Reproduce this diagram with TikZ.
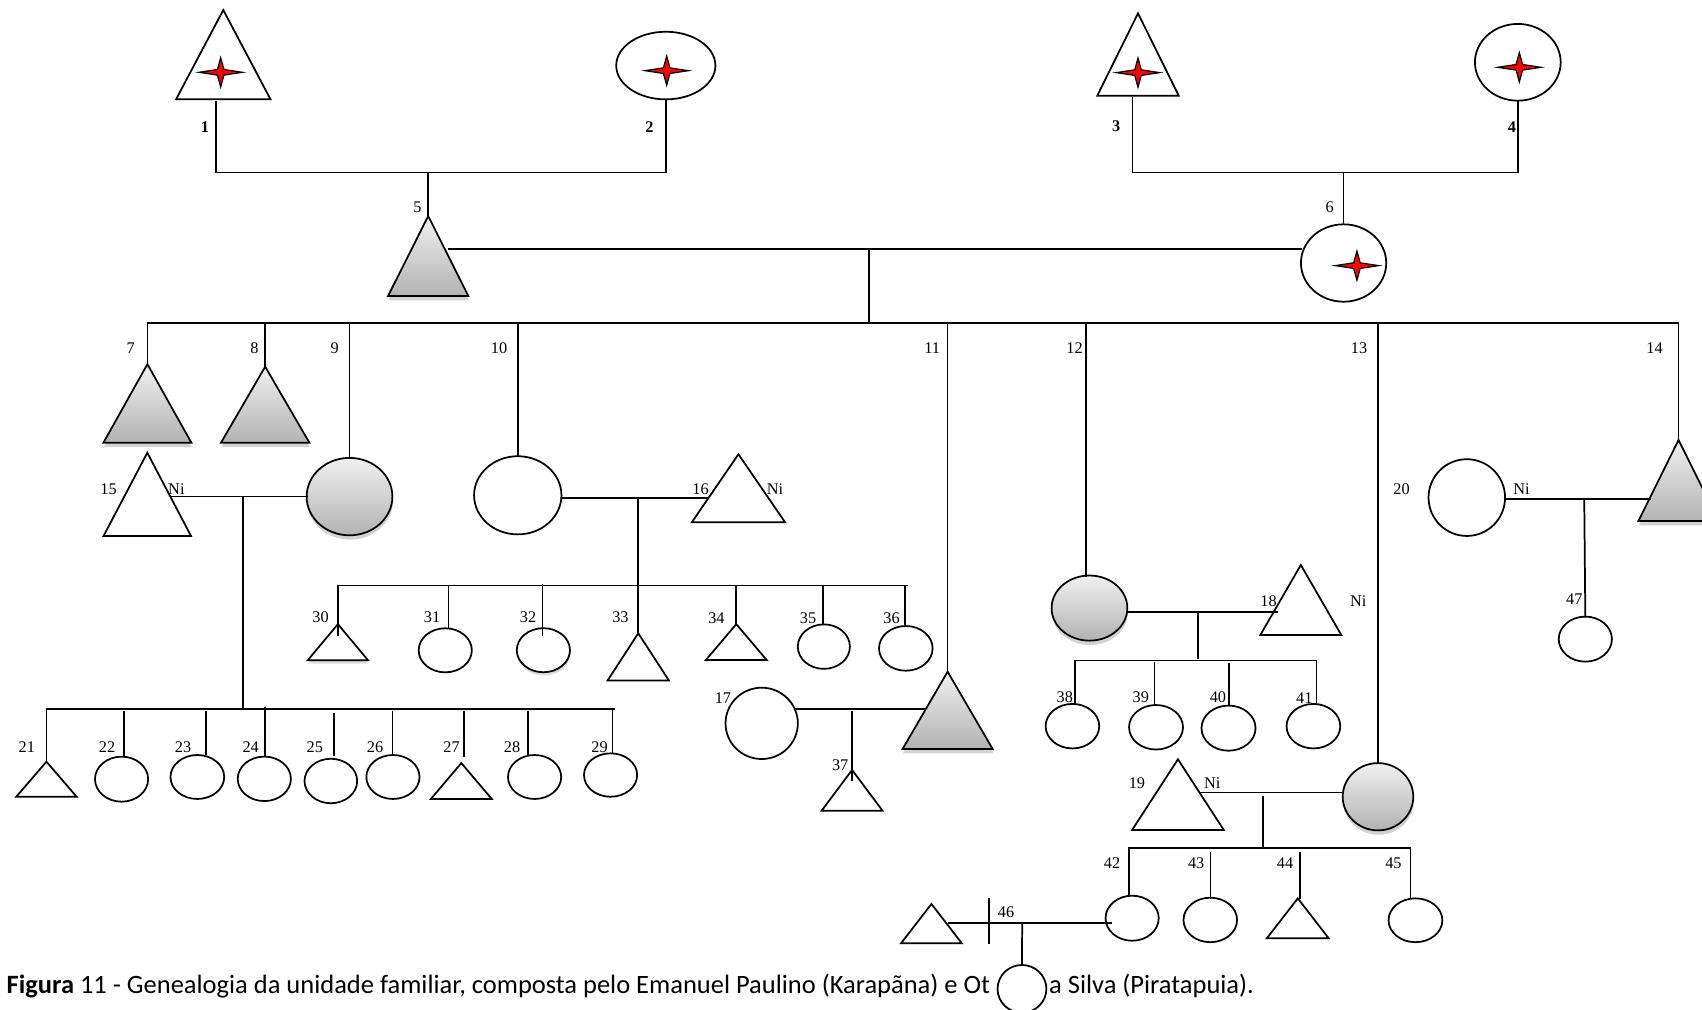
\documentclass[tikz,border=0pt]{standalone}
\usepackage{fontspec}
\setmainfont{Liberation Serif}
\newfontfamily\capfont{Carlito}
\usetikzlibrary{shapes.geometric,shadows}
\tikzset{
  ln/.style={line width=1.6pt, line cap=rect},
  shp/.style={draw, line width=1.6pt, fill=white, line join=miter},
  gsh/.style={draw, line width=1.6pt, top color=black!6, bottom color=black!30,
    drop shadow={shadow xshift=0.5pt, shadow yshift=-4pt, opacity=0.25, fill=black!70}},
  dsh/.style={drop shadow={shadow xshift=0.5pt, shadow yshift=-3pt, opacity=0.2, fill=black!70}},
  fem/.style={ellipse, shp, inner sep=0pt, outer sep=0pt},
  lbl/.style={font=\fontsize{15}{15}\selectfont, inner sep=0pt},
  blbl/.style={font=\fontsize{15}{15}\selectfont\bfseries, inner sep=0pt},
  starsty/.style={fill=red, draw=black, line width=1.1pt, line join=miter},
  capsty/.style={font=\capfont\fontsize{24.4}{24.4}\selectfont, inner sep=0pt, anchor=base west}
}
% triangle person: name, apex x, apex y, half base, height, style
\newcommand\ptri[6]{%
  \coordinate (#1-a) at (#2,#3);
  \coordinate (#1-r) at (#2+#4,#3+#5);
  \coordinate (#1-l) at (#2-#4,#3+#5);
  \path[#6] (#1-a) -- (#1-r) -- (#1-l) -- cycle;}
% ellipse person: name, x, y, width, height, style
\newcommand\pfem[6]{\node[fem,#6,minimum width=#4pt,minimum height=#5pt] (#1) at (#2,#3) {};}
% deceased mark
\newcommand\redstar[2]{\path[starsty] (#1-20,#2) -- (#1-3,#2-2.6) -- (#1,#2-13.5) -- (#1+3,#2-2.6)
  -- (#1+20,#2) -- (#1+3,#2+2.6) -- (#1,#2+13.5) -- (#1-3,#2+2.6) -- cycle;}
% vertical drop between two named coordinates
\newcommand\drop[4]{\coordinate (#1-u) at (#2,#3); \coordinate (#1-d) at (#2,#4);
  \draw[ln] (#1-u) -- (#1-d);}
\begin{document}
\begin{tikzpicture}[x=1pt,y=-1pt]
\fill[white] (0,0) rectangle (1568,930);
\useasboundingbox (0,0) rectangle (1568,930);

% caption
\node[capsty] (cap1) at (6,915) {\textbf{Figura} 11 - Genealogia da unidade familiar, composta pelo Emanuel Paulino (Karapãna) e Ot};
\node[capsty] (cap2) at (966.4,915) {a Silva (Piratapuia).};

% ---------- generation I ----------
\ptri{p1}{205.7}{9.2}{43.5}{82.3}{shp}
\redstar{203.3}{66.6}
\pfem{p2}{613.4}{60.4}{91.4}{62.3}{}
\redstar{614.2}{65.1}
\ptri{p3}{1048.4}{12.3}{37.5}{75.8}{shp}
\redstar{1048.4}{66.9}
\pfem{p4}{1398.3}{57.4}{79}{70.7}{}
\redstar{1399.7}{62}

% ---------- generation II ----------
\ptri{p5}{394.5}{199}{37}{73.7}{gsh}
\pfem{p6}{1237.8}{242.3}{78.6}{71.3}{}
\redstar{1250.1}{244.7}

% ---------- generation III ----------
\ptri{p7}{135.8}{335.5}{40.5}{72.3}{gsh}
\ptri{p8}{244.3}{337.8}{40.7}{70}{gsh}
\pfem{p9}{322}{457.5}{79}{71.3}{gsh}
\pfem{p10}{477}{456.3}{80.5}{72}{}
\ptri{p11}{873}{618.8}{41.5}{71.2}{gsh}
\pfem{p12}{1003.7}{560.2}{69.8}{60}{gsh}
\pfem{p13}{1269.5}{734}{65}{62}{gsh}
\ptri{p14}{1546.4}{405.3}{37}{74.7}{gsh}

% spouses
\ptri{p15}{135.7}{417.1}{40.3}{76.7}{shp}
\ptri{p16}{680.3}{418.5}{43}{62.7}{shp}
\pfem{p17}{701.7}{666.4}{66.6}{65.7}{}
\ptri{p18}{1198.4}{520.5}{37.3}{64.5}{shp}
\ptri{p19}{1085.2}{699.5}{42.2}{65.1}{shp}
\pfem{p20}{1351.3}{458.4}{70.5}{70.7}{}

% ---------- generation IV ----------
\ptri{p21}{42.8}{701.7}{27.8}{32.3}{shp}
\pfem{p22}{112}{717.8}{49}{41.5}{}
\pfem{p23}{181.8}{715.8}{49.5}{40.5}{}
\pfem{p24}{243.5}{717.5}{49}{41}{}
\pfem{p25}{304.8}{719.5}{48.5}{41}{}
\pfem{p26}{362}{715.8}{49}{40.5}{}
\ptri{p27}{425}{703}{28}{33}{shp}
\pfem{p28}{492.5}{715.8}{49}{40.5}{}
\pfem{p29}{562.5}{714}{49}{40}{}

\ptri{p30}{311.3}{575}{27.8}{33.3}{shp,dsh}
\pfem{p31}{410.2}{599.1}{49}{40.6}{}
\pfem{p32}{500.6}{599}{49}{40.6}{dsh}
\ptri{p33}{588}{583.4}{28.3}{43.6}{shp}
\ptri{p34}{678.3}{575}{28}{33}{shp}
\pfem{p35}{759}{595.7}{48}{41}{}
\pfem{p36}{834.5}{597.3}{49.4}{41.2}{}

\ptri{p37}{785}{709.3}{28}{37.5}{shp}

\pfem{p38}{988}{669}{49.4}{41}{}
\pfem{p39}{1065}{670}{49.7}{41}{}
\pfem{p40}{1131.8}{670.8}{49.8}{41.6}{}
\pfem{p41}{1210}{669}{49.5}{41}{}

\pfem{p42}{1043}{845.9}{49}{41.5}{}
\pfem{p43}{1115}{847.5}{49.4}{41}{}
\ptri{p44}{1195.6}{827.6}{28.5}{36.8}{shp}
\pfem{p45}{1304}{847.8}{49.6}{40.4}{}

\pfem{p47}{1460.5}{588.8}{49}{41.5}{}

% ---------- generation V ----------
\ptri{p48}{858.1}{832.8}{28}{36.2}{shp}
\pfem{p46}{941.5}{911}{45}{44}{}

% ---------- connectors ----------
% parents of 5
\coordinate (p1-s) at (198.7,93.7);
\coordinate (u1) at (198.7,159);
\coordinate (u2) at (613.4,159);
\draw[ln] (p1-s) -- (u1) -- (u2) -- (p2.south);
\coordinate (u12) at (394.5,159);
\draw[ln] (u12) -- (p5-a);
% parents of 6
\coordinate (p3-s) at (1043.3,90);
\coordinate (u3) at (1043.3,159);
\coordinate (u4) at (1398.3,159);
\draw[ln] (p3-s) -- (u3) -- (u4) -- (p4.south);
\coordinate (u34) at (1237.8,159);
\draw[ln] (u34) -- (p6.north);
% couple 5-6
\coordinate (m5) at (413.4,229.4);
\coordinate (m6) at (1198.5,229.4);
\draw[ln] (m5) -- (m6);
\coordinate (m56) at (800.6,229.4);
\coordinate (s56) at (800.6,297.3);
\draw[ln] (m56) -- (s56);
\coordinate (b2l) at (135.8,297.3);
\coordinate (b2r) at (1546.4,297.3);
\draw[ln] (p7-a) -- (b2l) -- (b2r) -- (p14-a);
\coordinate (k8) at (244.3,297.3);   \draw[ln] (k8) -- (p8-a);
\coordinate (k9) at (322,297.3);     \draw[ln] (k9) -- (p9.north);
\coordinate (k10) at (477,297.3);    \draw[ln] (k10) -- (p10.north);
\coordinate (k11) at (873,297.3);    \draw[ln] (k11) -- (p11-a);
\drop{k12}{1000.5}{297.3}{530.5}
\coordinate (k13) at (1269.5,297.3); \draw[ln] (k13) -- (p13.north);

% couple 15-9
\coordinate (m15) at (158.3,457.5);
\draw[ln] (m15) -- (p9.west);
\drop{d15}{224}{457.5}{653}
\coordinate (k21) at (42.8,700);
\coordinate (b15l) at (42.8,653);
\coordinate (b15r) at (566,653);
\draw[ln] (k21) -- (b15l) -- (b15r);
\drop{k22}{113.9}{656}{697}
\drop{k23}{189.6}{655.8}{695}
\drop{k24}{244.3}{652.5}{697}
\drop{k25}{307.6}{657.8}{696}
\drop{k26}{361.5}{655.8}{695.3}
\drop{k27}{427.7}{655.8}{697}
\drop{k28}{486.5}{655.8}{695.5}
\drop{k29}{564.2}{653}{694}

% couple 10-16
\coordinate (m16) at (652.5,458.5);
\draw[ln] (p10.east |- m16) -- (m16);
\coordinate (d16) at (588,458.5);
\draw[ln] (d16) -- (p33-a);
\coordinate (b16l) at (311.3,539.5);
\coordinate (b16r) at (835.8,539.5);
\draw[ln] (b16l) -- (b16r);
\drop{k30}{311.3}{539.5}{585}
\drop{k31}{413.3}{539.5}{578.8}
\drop{k32}{499.7}{539}{585}
\drop{k34}{678.3}{539.5}{575}
\drop{k35}{758.5}{539.5}{575.2}
\drop{k36}{833.7}{539.5}{577}

% couple 17-11
\coordinate (m17a) at (733,653.5);
\coordinate (m17b) at (851,653.5);
\draw[ln] (m17a) -- (m17b);
\drop{k37}{785}{655.6}{718.6}

% couple 12-18
\coordinate (m18) at (1177,563.5);
\draw[ln] (p12.east |- m18) -- (m18);
\drop{d18}{1104}{563.5}{606}
\coordinate (k38) at (990.5,648.5);
\coordinate (b18l) at (990.5,608.6);
\coordinate (b18r) at (1212.8,608.6);
\coordinate (k41) at (1212.8,648);
\draw[ln] (k38) -- (b18l) -- (b18r) -- (k41);
\drop{k39}{1063.6}{610.5}{649.2}
\drop{k40}{1132.4}{611.8}{650}

% couple 19-13
\coordinate (m19) at (1106,730);
\draw[ln] (m19) -- (m19 -| p13.west);
\drop{d19}{1163.8}{733.9}{781.5}
\coordinate (k42) at (1040.4,825.1);
\coordinate (b19l) at (1040.4,781.5);
\coordinate (b19r) at (1299.5,781.5);
\coordinate (k45) at (1299.5,827.5);
\draw[ln] (k42) -- (b19l) -- (b19r) -- (k45);
\drop{k43}{1115.2}{786}{827}
\drop{k44}{1197.3}{786}{827.6}

% couple 48-42 (separated)
\coordinate (m48a) at (874,850);
\coordinate (m48b) at (1023.5,850);
\draw[ln] (m48a) -- (m48b);
\drop{dv}{911}{828.2}{869}
\coordinate (d46) at (941.7,851);
\draw[ln] (d46) -- (p46.north);

% couple 20-14
\coordinate (m14) at (1520,460);
\draw[ln] (p20.east |- m14) -- (m14);
\coordinate (d20) at (1459.5,460);
\draw[ln] (d20) -- (p47.north);

% ---------- labels ----------
\node[blbl] (l1) at (188.7,117.3) {1};
\node[blbl] (l2) at (598.2,117.3) {2};
\node[blbl] (l3) at (1028.3,116.7) {3};
\node[blbl] (l4) at (1393,116.7) {4};
\node[lbl] (l5) at (384.5,191) {5};
\node[lbl] (l6) at (1225,191) {6};
\node[lbl] (l7) at (120.5,320.9) {7};
\node[lbl] (l8) at (234.4,320.9) {8};
\node[lbl] (l9) at (308.4,320.9) {9};
\node[lbl] (l10) at (459.8,320.9) {10};
\node[lbl] (l11) at (858.8,320.9) {11};
\node[lbl] (l12) at (990,320.9) {12};
\node[lbl] (l13) at (1252,320.9) {13};
\node[lbl] (l14) at (1524.3,320.9) {14};
\node[lbl] (l15) at (100,450.8) {15};
\node[lbl] (n15) at (162.5,450.8) {Ni};
\node[lbl] (l16) at (645.4,450.8) {16};
\node[lbl] (n16) at (714,450.8) {Ni};
\node[lbl] (l17) at (666,642.7) {17};
\node[lbl] (l18) at (1168.7,553.6) {18};
\node[lbl] (n18) at (1251.2,553.6) {Ni};
\node[lbl] (l19) at (1047.4,721.6) {19};
\node[lbl] (n19) at (1116.7,721.6) {Ni};
\node[lbl] (l20) at (1291.2,450.8) {20};
\node[lbl] (n20) at (1401.7,450.8) {Ni};
\node[lbl] (l21) at (24.7,688) {21};
\node[lbl] (l22) at (98.7,688) {22};
\node[lbl] (l23) at (168.6,688) {23};
\node[lbl] (l24) at (231,688) {24};
\node[lbl] (l25) at (290,688) {25};
\node[lbl] (l26) at (345.5,688) {26};
\node[lbl] (l27) at (416,688) {27};
\node[lbl] (l28) at (471.7,688) {28};
\node[lbl] (l29) at (552.4,688) {29};
\node[lbl] (l30) at (295.3,569) {30};
\node[lbl] (l31) at (398,569) {31};
\node[lbl] (l32) at (486.5,569) {32};
\node[lbl] (l33) at (571.6,569) {33};
\node[lbl] (l34) at (660,569.6) {34};
\node[lbl] (l35) at (744.5,569.6) {35};
\node[lbl] (l36) at (821.4,569.6) {36};
\node[lbl] (l37) at (774,704.7) {37};
\node[lbl] (l38) at (981,642.7) {38};
\node[lbl] (l39) at (1051,642.7) {39};
\node[lbl] (l40) at (1122,642.7) {40};
\node[lbl] (l41) at (1201.6,642.7) {41};
\node[lbl] (l42) at (1024.5,795.3) {42};
\node[lbl] (l43) at (1102,795.3) {43};
\node[lbl] (l44) at (1183.9,795.3) {44};
\node[lbl] (l45) at (1283.7,795.3) {45};
\node[lbl] (l46) at (926.9,840.8) {46};
\node[lbl] (l47) at (1450.4,552.1) {47};
\end{tikzpicture}
\end{document}
